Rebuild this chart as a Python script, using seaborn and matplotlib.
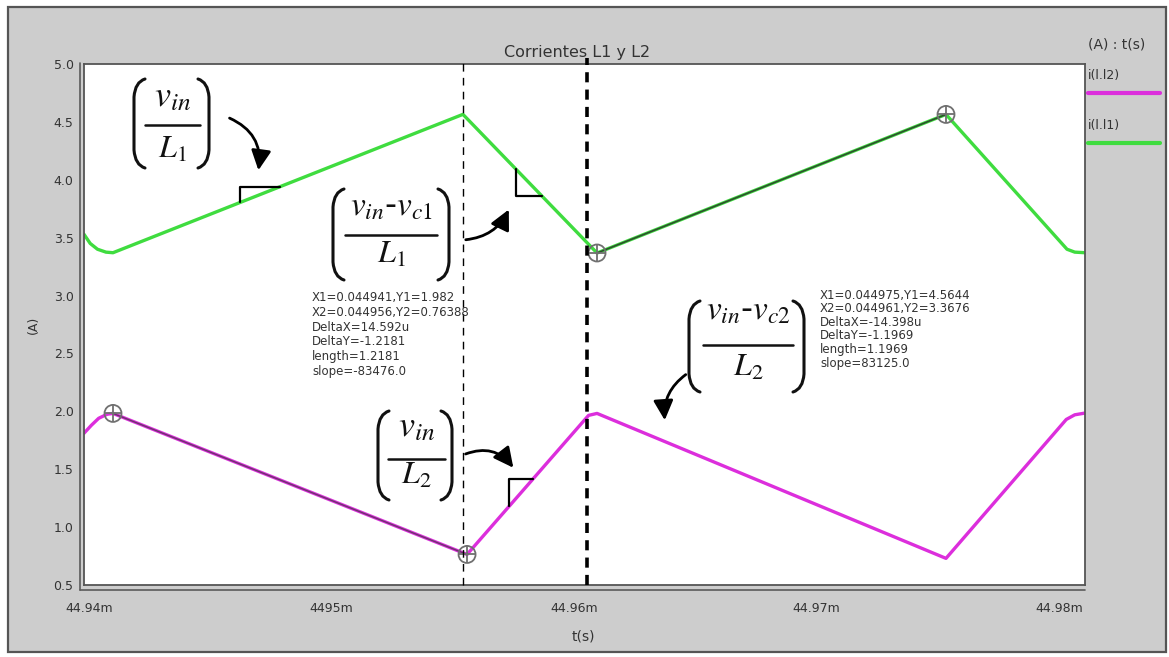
import numpy as np
import pandas as pd
import matplotlib
matplotlib.use("Agg")
import matplotlib.pyplot as plt
from matplotlib.patches import Rectangle, FancyArrowPatch, PathPatch
from matplotlib.path import Path
from matplotlib.lines import Line2D
from matplotlib.transforms import Affine2D
import seaborn as sns

# Inductor currents (time in ms, current in A)
t_l1 = [44.93979, 44.94005, 44.94035, 44.94070, 44.94099, 44.95542,
        44.96095, 44.97534, 44.98033, 44.98065, 44.98107]
i_l1 = [3.53, 3.45, 3.40, 3.375, 3.37, 4.565,
        3.3676, 4.5644, 3.40, 3.375, 3.37]

t_l2 = [44.93979, 44.94010, 44.94040, 44.94075, 44.94099, 44.95559,
        44.96060, 44.96095, 44.97534, 44.98030, 44.98065, 44.98107]
i_l2 = [1.81, 1.88, 1.94, 1.975, 1.982, 0.76388,
        1.965, 1.982, 0.73, 1.93, 1.97, 1.985]

series_names = ["i(l.l2)", "i(l.l1)"]
series_colors = ["#dc2edc", "#3fdc3f"]

x_ticks = [44.94, 44.95, 44.96, 44.97, 44.98]
x_tick_labels = ["44.94m", "4495m", "44.96m", "44.97m", "44.98m"]
y_ticks = [0.5, 1.0, 1.5, 2.0, 2.5, 3.0, 3.5, 4.0, 4.5, 5.0]
y_tick_labels = ["0.5", "1.0", "1.5", "2.0", "2.5", "3.0", "3.5", "4.0", "4.5", "5.0"]

# Measurement cursors (X1/Y1, X2/Y2)
cursor_l2_t = [44.94099, 44.95559]
cursor_l2_i = [1.982, 0.76388]
cursor_l1_t = [44.97534, 44.96095]
cursor_l1_i = [4.5644, 3.3676]

cursor_l2_text = ["X1=0.044941,Y1=1.982", "X2=0.044956,Y2=0.76388",
                  "DeltaX=14.592u", "DeltaY=-1.2181", "length=1.2181",
                  "slope=-83476.0"]
cursor_l1_text = ["X1=0.044975,Y1=4.5644", "X2=0.044961,Y2=3.3676",
                  "DeltaX=-14.398u", "DeltaY=-1.1969", "length=1.1969",
                  "slope=83125.0"]

# Vertical marker lines (thin, thick)
marker_t = [44.95542, 44.96054]

sns.set_style("white")
plt.rcParams["font.family"] = ["DejaVu Sans"]
plt.rcParams["mathtext.fontset"] = "stix"

W, H = 1169, 657
fig = plt.figure(figsize=(W / 100, H / 100), dpi=100, facecolor="white")
# pixel coordinates, origin top-left
pix = Affine2D().scale(1.0 / W, -1.0 / H).translate(0, 1) + fig.transFigure

# Grey panel with dark frame
fig.add_artist(Rectangle((8, 7), 1158, 645, transform=pix, facecolor="#cdcdcd",
                         edgecolor="#555555", lw=1.6, zorder=0))

ax = fig.add_axes([84 / W, 1 - 585 / H, (1085 - 84) / W, (585 - 64) / H])
ax.set_facecolor("white")

df = pd.concat([
    pd.DataFrame({"t": t_l2, "i": i_l2, "s": series_names[0]}),
    pd.DataFrame({"t": t_l1, "i": i_l1, "s": series_names[1]}),
])
sns.lineplot(data=df, x="t", y="i", hue="s",
             palette=dict(zip(series_names, series_colors)),
             lw=2.4, legend=False, ax=ax, sort=False, estimator=None)

# Cursor measurement segments and crosshair circles
ax.plot(cursor_l2_t, cursor_l2_i, color="#3a3a3a", lw=1.0, alpha=0.7, zorder=4)
ax.plot(cursor_l1_t, cursor_l1_i, color="#2a2a2a", lw=1.2, alpha=0.8, zorder=4)
for ts, vs in ((cursor_l2_t, cursor_l2_i), (cursor_l1_t, cursor_l1_i)):
    ax.scatter(ts, vs, s=150, facecolors="none", edgecolors="#707070",
               lw=1.3, zorder=5)
    ax.scatter(ts, vs, s=150, marker="+", color="#707070", lw=1.3, zorder=5)

# Vertical marker lines
ax.axvline(marker_t[0], ymin=0, ymax=1.012, color="black", lw=1.0,
           ls=(0, (5.5, 4.5)), clip_on=False, zorder=6)
ax.axvline(marker_t[1], ymin=0, ymax=1.012, color="black", lw=2.6,
           ls=(0, (2.8, 2.0)), clip_on=False, zorder=6)

ax.set_xlim(44.939794, 44.981072)
ax.set_ylim(0.5, 5.0)
ax.set_xticks(x_ticks, x_tick_labels)
ax.set_yticks(y_ticks, y_tick_labels)
ax.tick_params(axis="x", direction="out", length=9, width=1.0, color="#555555",
               labelsize=9, labelcolor="#333333", pad=3)
ax.tick_params(axis="y", direction="out", length=5.5, width=1.0, color="#555555",
               labelsize=9, labelcolor="#333333", pad=2)
for sp in ax.spines.values():
    sp.set_color("#555555")
    sp.set_linewidth(1.3)
ax.set_xlabel("")
ax.set_ylabel("")

# Double frame lines on the left and bottom
fig.add_artist(Line2D([80, 80], [63, 590], transform=pix, color="#5a5a5a", lw=1.2))
fig.add_artist(Line2D([80, 1085], [590, 590], transform=pix, color="#5a5a5a", lw=1.2))


# Slope right-angle marks
def corner(ts, vs, ta, tb, top_horizontal):
    va, vb = float(np.interp(ta, ts, vs)), float(np.interp(tb, ts, vs))
    level = max(va, vb) if top_horizontal else min(va, vb)
    ax.plot([ta, ta, tb], [va, level, level], color="black", lw=1.6, zorder=6)


corner(t_l1, i_l1, 44.94623, 44.94788, True)
corner(t_l1, i_l1, 44.95761, 44.95868, False)
corner(t_l2, i_l2, 44.95732, 44.95831, True)

# Labels
fig.text(577, 52, "Corrientes L1 y L2", transform=pix, ha="center", va="center",
         fontsize=11.5, color="#333333")
fig.text(583, 636, "t(s)", transform=pix, ha="center", va="center", fontsize=10,
         color="#333333")
fig.text(33, 325, "(A)", transform=pix, ha="center", va="center", fontsize=9,
         rotation=90, color="#333333")

# Series key on the right
fig.text(1088, 45, "(A) : t(s)", transform=pix, ha="left", va="center",
         fontsize=10, color="#333333")
for k, (name, col) in enumerate(zip(series_names, series_colors)):
    y0 = 75 + 50 * k
    fig.text(1088, y0, name, transform=pix, ha="left", va="center", fontsize=9,
             color="#333333")
    fig.add_artist(Line2D([1088, 1160], [y0 + 18, y0 + 18], transform=pix,
                          color=col, lw=3))

# Cursor readouts
for k, s in enumerate(cursor_l2_text):
    fig.text(312, 298 + 14.6 * k, s, transform=pix, ha="left", va="center",
             fontsize=8.5, color="#333333")
for k, s in enumerate(cursor_l1_text):
    fig.text(820, 295 + 13.6 * k, s, transform=pix, ha="left", va="center",
             fontsize=8.5, color="#333333")


# Slope formulas: numerator / bar / denominator inside tall round brackets
def bracket(x, top, bottom, side):
    d = 11 * side
    verts = [(x + d, top), (x + 0.1 * d, top + 3), (x, top + 18),
             (x, bottom - 18), (x + 0.1 * d, bottom - 3), (x + d, bottom)]
    codes = [Path.MOVETO, Path.CURVE3, Path.CURVE3,
             Path.LINETO, Path.CURVE3, Path.CURVE3]
    fig.add_artist(PathPatch(Path(verts, codes), transform=pix, fill=False,
                             lw=2.2, color="#111111", capstyle="round"))


def formula(num, den, left, right, top, bottom, bar_x0, bar_x1, bar_y,
            num_base, den_base, num_size=26):
    cx = 0.5 * (bar_x0 + bar_x1)
    fig.text(cx, num_base, num, transform=pix, ha="center", va="baseline",
             fontsize=num_size, color="#111111")
    fig.add_artist(Line2D([bar_x0, bar_x1], [bar_y, bar_y], transform=pix,
                          color="#111111", lw=1.8))
    fig.text(cx, den_base, den, transform=pix, ha="center", va="baseline",
             fontsize=23, color="#111111")
    bracket(left, top, bottom, 1)
    bracket(right, top, bottom, -1)


formula(r"$v_{in}$", r"$L_1$", 134, 209, 79, 168, 145, 200, 125, 106, 158)
formula(r"$v_{in}$-$v_{c1}$", r"$L_1$", 333, 449, 189, 280, 345, 437, 235, 215, 263,
        num_size=24)
formula(r"$v_{in}$", r"$L_2$", 378, 452, 411, 500, 388, 445, 459, 436, 484)
formula(r"$v_{in}$-$v_{c2}$", r"$L_2$", 689, 804, 301, 392, 703, 793, 345, 320, 376,
        num_size=24)


def curved_arrow(p0, p1, rad):
    fig.add_artist(FancyArrowPatch(
        p0, p1, transform=pix,
        connectionstyle=f"arc3,rad={rad}",
        arrowstyle="-|>,head_length=1.0,head_width=0.5",
        mutation_scale=12, lw=2, color="black"))


curved_arrow((227, 117), (258, 173), -0.4)
curved_arrow((463, 240), (510, 207), 0.3)
curved_arrow((463, 455), (515, 470), -0.4)
curved_arrow((688, 373), (665, 423), 0.3)

fig.savefig("out.png", dpi=100, facecolor="white")
